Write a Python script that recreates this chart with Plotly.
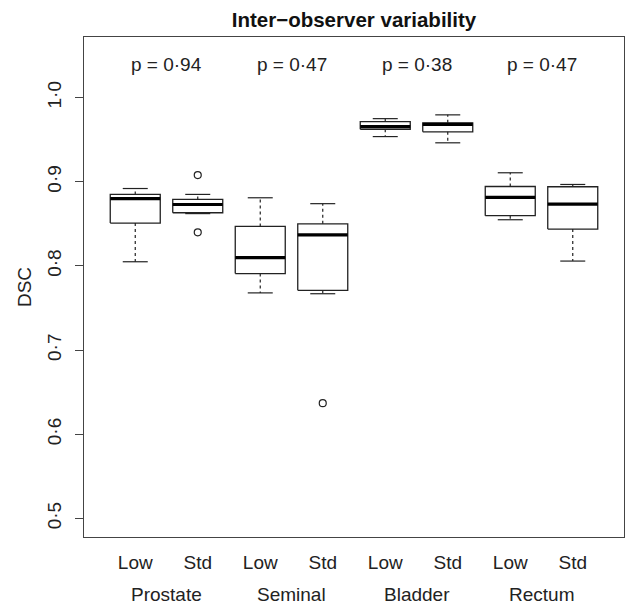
import plotly.graph_objects as go

# ---- data ----
categories = ["Prostate", "Seminal", "Bladder", "Rectum"]
groups = ["Low", "Std"]
p_values = ["p = 0·94", "p = 0·47", "p = 0·38", "p = 0·47"]

upper_whisker = [0.892, 0.885, 0.881, 0.874, 0.975, 0.9795, 0.9107, 0.8968]
q3_values     = [0.885, 0.879, 0.847, 0.850, 0.9715, 0.970, 0.8944, 0.8941]
median_values = [0.880, 0.873, 0.810, 0.837, 0.9656, 0.9683, 0.8814, 0.8734]
q1_values     = [0.851, 0.8632, 0.791, 0.771, 0.9624, 0.9593, 0.8597, 0.8438]
lower_whisker = [0.805, 0.8622, 0.768, 0.767, 0.9537, 0.9463, 0.8549, 0.8058]

outlier_box = [2, 2, 4]            # 1-based box index
outlier_values = [0.908, 0.840, 0.637]

y_tick_values = [0.5, 0.6, 0.7, 0.8, 0.9, 1.0]
y_tick_labels = ["0·5", "0·6", "0·7", "0·8", "0·9", "1·0"]

# ---- styling constants ----
BOX_HALF = 0.4
STAPLE_HALF = 0.2
INK = "#222222"
FONT = "Liberation Sans, Arial, Helvetica, sans-serif"
FS = 19

n = len(median_values)
positions = list(range(1, n + 1))
x_labels = [g for _ in categories for g in groups]

bx, by, mx, my, wx, wy, sx, sy = [], [], [], [], [], [], [], []
for i, p in enumerate(positions):
    l, r = p - BOX_HALF, p + BOX_HALF
    bx += [l, r, r, l, l, None]
    by += [q1_values[i], q1_values[i], q3_values[i], q3_values[i], q1_values[i], None]
    mx += [l, r, None]
    my += [median_values[i], median_values[i], None]
    wx += [p, p, None, p, p, None]
    wy += [q3_values[i], upper_whisker[i], None, q1_values[i], lower_whisker[i], None]
    sx += [p - STAPLE_HALF, p + STAPLE_HALF, None, p - STAPLE_HALF, p + STAPLE_HALF, None]
    sy += [upper_whisker[i], upper_whisker[i], None, lower_whisker[i], lower_whisker[i], None]

fig = go.Figure()
fig.add_trace(go.Scatter(x=wx, y=wy, mode="lines",
                         line=dict(color=INK, width=1.2, dash="3px,3px"), hoverinfo="skip"))
fig.add_trace(go.Scatter(x=sx, y=sy, mode="lines",
                         line=dict(color=INK, width=1.2), hoverinfo="skip"))
fig.add_trace(go.Scatter(x=bx, y=by, mode="lines",
                         line=dict(color=INK, width=1.3), hoverinfo="skip"))
fig.add_trace(go.Scatter(x=mx, y=my, mode="lines",
                         line=dict(color="#000000", width=3.2), hoverinfo="skip"))
fig.add_trace(go.Scatter(x=outlier_box, y=outlier_values, mode="markers",
                         marker=dict(symbol="circle-open", size=7, color=INK,
                                     line=dict(width=1.2, color=INK)),
                         hoverinfo="skip"))

annotations = []
for k, cat in enumerate(categories):
    cx = (positions[2 * k] + positions[2 * k + 1]) / 2
    annotations.append(dict(x=cx, y=1.0395, xref="x", yref="y", text=p_values[k],
                            showarrow=False, font=dict(size=FS, color=INK, family=FONT)))
    annotations.append(dict(x=cx, y=-0.114, xref="x", yref="paper", text=cat,
                            showarrow=False, yanchor="middle",
                            font=dict(size=FS, color=INK, family=FONT)))
annotations.append(dict(x=-0.111, y=0.5, xref="paper", yref="paper", text="DSC",
                        textangle=-90, showarrow=False, xanchor="center", yanchor="middle",
                        font=dict(size=FS, color=INK, family=FONT)))

fig.update_layout(
    template="none",
    width=625, height=607,
    margin=dict(l=84, r=1, t=37, b=70, pad=0),
    paper_bgcolor="white", plot_bgcolor="white",
    showlegend=False,
    font=dict(family=FONT, size=FS, color=INK),
    title=dict(text="<b>Inter−observer variability</b>", x=0.5, xref="paper",
               y=1 - 20 / 607, yref="container", xanchor="center", yanchor="middle",
               font=dict(size=20.5, color="#111111", family=FONT)),
    annotations=annotations,
)
fig.update_xaxes(range=[0.18, 8.82], tickvals=positions, ticktext=x_labels,
                 ticks="", showgrid=False, zeroline=False, automargin=False,
                 showline=True, mirror=True, linecolor="#444444", linewidth=1.2,
                 ticklabelstandoff=8, tickfont=dict(size=FS, color=INK))
fig.update_yaxes(range=[0.478, 1.072], tickvals=y_tick_values, ticktext=y_tick_labels,
                 tickangle=-90, ticks="outside", ticklen=8, tickcolor="#444444",
                 tickwidth=1.2, showgrid=False, zeroline=False, automargin=False,
                 showline=True, mirror=True, linecolor="#444444", linewidth=1.2,
                 ticklabelstandoff=6, tickfont=dict(size=FS, color=INK))

fig.write_html("out.html", config={"displayModeBar": False},
               post_script="document.body.style.margin='0';")
